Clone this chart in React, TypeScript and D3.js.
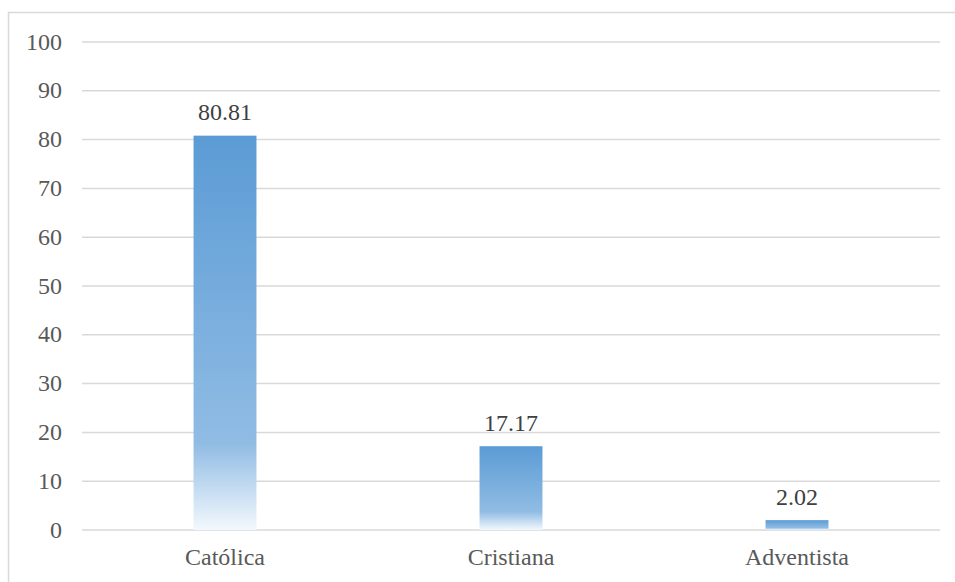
import React from "react";
import * as d3 from "d3";

const categories = ["Católica", "Cristiana", "Adventista"];
const values = [80.81, 17.17, 2.02];
const valueLabels = ["80.81", "17.17", "2.02"];
const yTicks = [0, 10, 20, 30, 40, 50, 60, 70, 80, 90, 100];

const W = 955;
const H = 582;
const plot = { left: 82, right: 940, top: 42, bottom: 530 };
const FONT = "Liberation Serif, Times New Roman, serif";

export default function App() {
  const x = d3
    .scaleBand<string>()
    .domain(categories)
    .range([plot.left, plot.right])
    .paddingInner(0.78)
    .paddingOuter(0.39);
  const y = d3.scaleLinear().domain([0, 100]).range([plot.bottom, plot.top]);

  const txt = { fontFamily: FONT, fontSize: "24px" } as React.CSSProperties;

  return (
    <svg
      width={W}
      height={H}
      style={{ position: "absolute", left: 0, top: 0, background: "#fff" }}
    >
      <defs>
        <linearGradient id="barGrad" x1="0" y1="0" x2="0" y2="1">
          <stop offset="0%" stopColor="#5B9BD5" />
          <stop offset="78%" stopColor="#90BCE4" />
          <stop offset="100%" stopColor="#F3F8FD" />
        </linearGradient>
      </defs>
      <rect x={8.5} y={12.5} width={W + 10} height={H + 10} fill="#fff" stroke="#D9D9D9" strokeWidth={1.5} />
      {yTicks.map((t) => (
        <g key={t}>
          <line x1={plot.left} x2={plot.right} y1={y(t)} y2={y(t)} stroke="#D9D9D9" strokeWidth={1.5} />
          <text x={62} y={y(t) + 7.5} textAnchor="end" style={txt} fill="#595959">
            {t}
          </text>
        </g>
      ))}
      {categories.map((c, i) => (
        <g key={c}>
          <rect x={x(c)} y={y(values[i])} width={x.bandwidth()} height={y(0) - y(values[i])} fill="url(#barGrad)" />
          <text x={(x(c) as number) + x.bandwidth() / 2} y={y(values[i]) - 15.5} textAnchor="middle" style={txt} fill="#404040">
            {valueLabels[i]}
          </text>
          <text x={(x(c) as number) + x.bandwidth() / 2} y={565} textAnchor="middle" style={txt} fill="#595959">
            {c}
          </text>
        </g>
      ))}
    </svg>
  );
}
